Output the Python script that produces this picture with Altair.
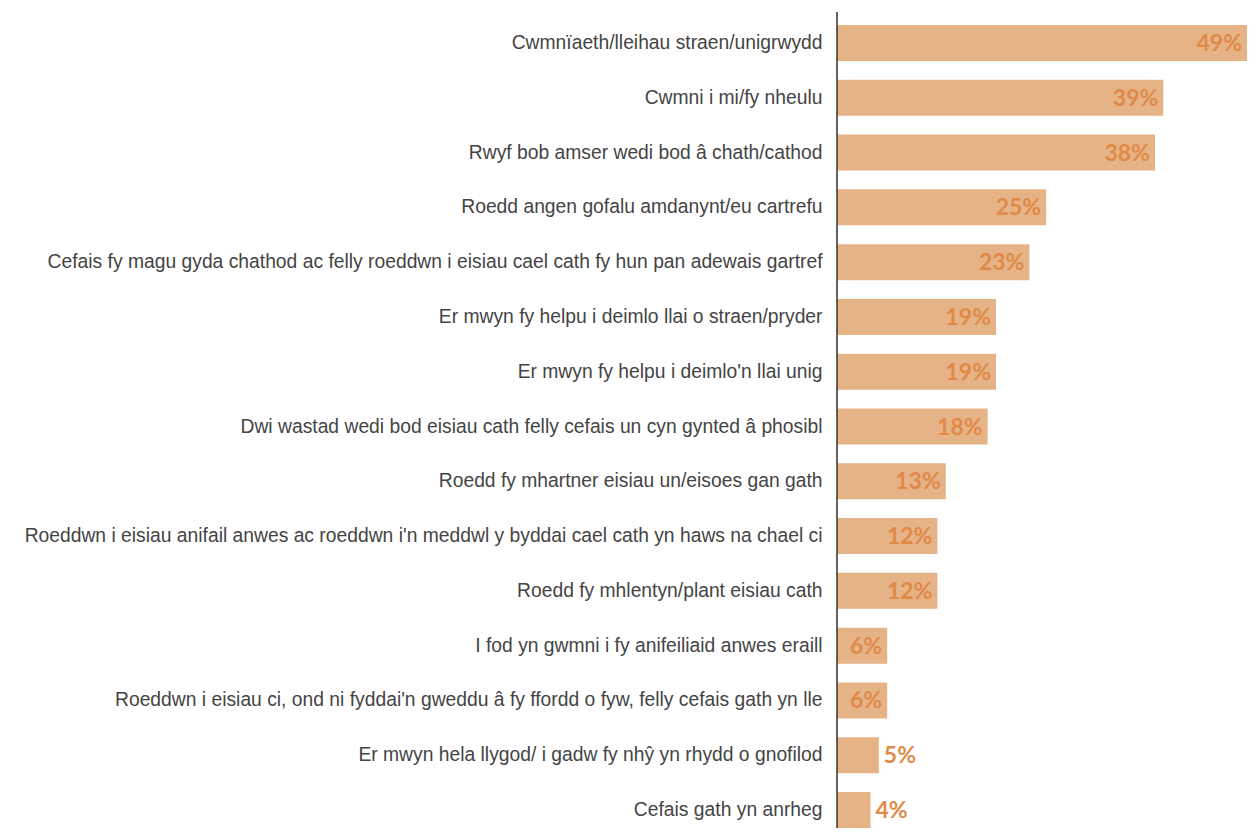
import altair as alt
import pandas as pd

categories = [
    "Cwmnïaeth/lleihau straen/unigrwydd",
    "Cwmni i mi/fy nheulu",
    "Rwyf bob amser wedi bod â chath/cathod",
    "Roedd angen gofalu amdanynt/eu cartrefu",
    "Cefais fy magu gyda chathod ac felly roeddwn i eisiau cael cath fy hun pan adewais gartref",
    "Er mwyn fy helpu i deimlo llai o straen/pryder",
    "Er mwyn fy helpu i deimlo'n llai unig",
    "Dwi wastad wedi bod eisiau cath felly cefais un cyn gynted â phosibl",
    "Roedd fy mhartner eisiau un/eisoes gan gath",
    "Roeddwn i eisiau anifail anwes ac roeddwn i'n meddwl y byddai cael cath yn haws na chael ci",
    "Roedd fy mhlentyn/plant eisiau cath",
    "I fod yn gwmni i fy anifeiliaid anwes eraill",
    "Roeddwn i eisiau ci, ond ni fyddai'n gweddu â fy ffordd o fyw, felly cefais gath yn lle",
    "Er mwyn hela llygod/ i gadw fy nhŷ yn rhydd o gnofilod",
    "Cefais gath yn anrheg",
]
values = [49, 39, 38, 25, 23, 19, 19, 18, 13, 12, 12, 6, 6, 5, 4]
labels = [f"{v}%" for v in values]

df = pd.DataFrame({"cat": categories, "value": values, "label": labels})
df["inside"] = df["value"] > 5

H = 803
W = 410

y = alt.Y("cat:N", sort=categories, title=None,
          scale=alt.Scale(paddingInner=0.343, paddingOuter=0),
          axis=alt.Axis(labelFont="Liberation Sans", labelFontSize=19.3, labelColor="#444444",
                        labelLimit=1000, labelPadding=15, ticks=False, domain=False))
x = alt.X("value:Q", title=None, scale=alt.Scale(domain=[0, 49], nice=False),
          axis=None)

base = alt.Chart(df)
bars = base.mark_bar(color="#E6B387").encode(x=x, y=y)
axis_line = alt.Chart(pd.DataFrame({"v": [0]})).mark_rule(
    color="#333333", strokeWidth=1.5).encode(
    x=alt.X("v:Q", scale=alt.Scale(domain=[0, 49], nice=False), axis=None),
    y=alt.value(-13), y2=alt.value(H + 2))
text_in = base.transform_filter("datum.inside").mark_text(
    align="right", baseline="middle", dx=-5, dy=1, font="Lato", fontWeight="bold",
    fontSize=23, color="#E08A48").encode(x=x, y=y, text="label:N")
text_out = base.transform_filter("!datum.inside").mark_text(
    align="left", baseline="middle", dx=5, dy=1, font="Lato", fontWeight="bold",
    fontSize=23, color="#E08A48").encode(x=x, y=y, text="label:N")

chart = (bars + axis_line + text_in + text_out).properties(
    width=W, height=H,
    autosize=alt.AutoSizeParams(type="none"),
    padding={"left": 829, "top": 17, "right": 0, "bottom": 0},
).configure_view(strokeWidth=0).configure(background="white")

chart.save("out.html", embed_options={"renderer": "svg", "actions": False})
